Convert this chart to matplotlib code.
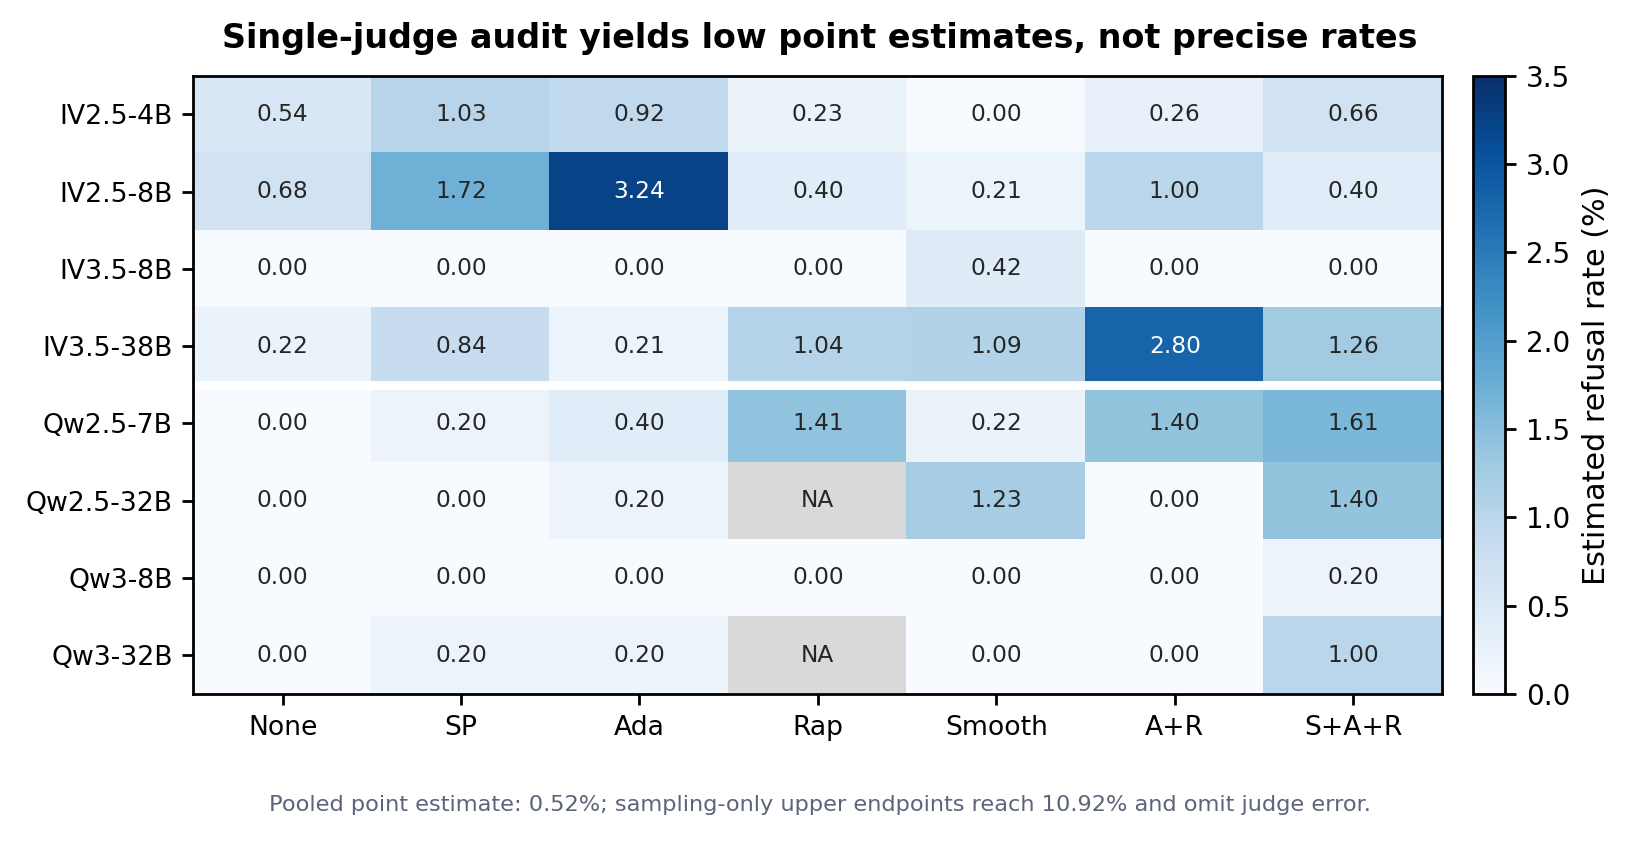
import numpy as np
import matplotlib.pyplot as plt
import matplotlib.colors as mcolors

models = ["IV2.5-4B", "IV2.5-8B", "IV3.5-8B", "IV3.5-38B",
          "Qw2.5-7B", "Qw2.5-32B", "Qw3-8B", "Qw3-32B"]
methods = ["None", "SP", "Ada", "Rap", "Smooth", "A+R", "S+A+R"]

nan = np.nan
rates = np.array([
    [0.54, 1.03, 0.92, 0.23, 0.00, 0.26, 0.66],
    [0.68, 1.72, 3.24, 0.40, 0.21, 1.00, 0.40],
    [0.00, 0.00, 0.00, 0.00, 0.42, 0.00, 0.00],
    [0.22, 0.84, 0.21, 1.04, 1.09, 2.80, 1.26],
    [0.00, 0.20, 0.40, 1.41, 0.22, 1.40, 1.61],
    [0.00, 0.00, 0.20, nan, 1.23, 0.00, 1.40],
    [0.00, 0.00, 0.00, 0.00, 0.00, 0.00, 0.20],
    [0.00, 0.20, 0.20, nan, 0.00, 0.00, 1.00],
])

title = "Single-judge audit yields low point estimates, not precise rates"
footer = ("Pooled point estimate: 0.52%; sampling-only upper endpoints "
          "reach 10.92% and omit judge error.")

vmin, vmax = 0.0, 3.5

fig = plt.figure(figsize=(8.195, 4.21), dpi=200)
ax = fig.add_axes([0.118, 0.176, 0.762, 0.734])
cax = fig.add_axes([0.899, 0.176, 0.0195, 0.734])

cmap = plt.get_cmap("Blues").copy()
cmap.set_bad("#d9d9d9")
norm = mcolors.Normalize(vmin=vmin, vmax=vmax)

im = ax.imshow(np.ma.masked_invalid(rates), cmap=cmap, norm=norm,
               aspect="auto", interpolation="nearest")

for i in range(rates.shape[0]):
    for j in range(rates.shape[1]):
        v = rates[i, j]
        if np.isnan(v):
            ax.text(j, i, "NA", ha="center", va="center", fontsize=8.4, color="#262626")
        else:
            c = "white" if v > 2.2 else "#262626"
            ax.text(j, i, f"{v:.2f}", ha="center", va="center", fontsize=8.4, color=c)

# separator between InternVL and Qwen families
ax.axhline(3.5, color="white", linewidth=3.2)

ax.set_xticks(range(len(methods)))
ax.set_xticklabels(methods, fontsize=9.6)
ax.set_yticks(range(len(models)))
ax.set_yticklabels(models, fontsize=9.6)
ax.tick_params(length=4, width=1)
for s in ax.spines.values():
    s.set_linewidth(1)

cb = fig.colorbar(im, cax=cax)
cb.set_label("Estimated refusal rate (%)", fontsize=10.9)
cb.ax.tick_params(labelsize=10, length=4, width=1)
cb.outline.set_linewidth(1)
cb.set_ticks(np.arange(0, 3.51, 0.5))

fig.text(0.5, 0.954, title, ha="center", va="center", fontsize=12.0, fontweight="bold")
fig.text(0.5, 0.044, footer, ha="center", va="center", fontsize=8.1, color="#5b6478")

fig.savefig("out.png", dpi=200)
